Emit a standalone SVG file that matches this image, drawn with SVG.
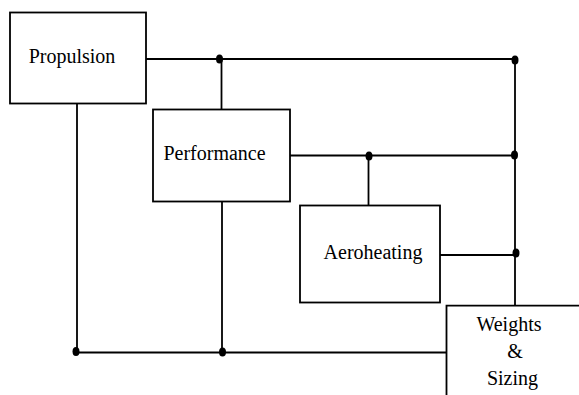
<svg xmlns="http://www.w3.org/2000/svg" width="579" height="395" viewBox="0 0 579 395">
<style>
.box{fill:#fff;stroke:#000;stroke-width:1.8}
.ln{fill:none;stroke:#000;stroke-width:1.8}
.dot{fill:#000}
text{font-family:"Liberation Serif","Times New Roman",serif;font-size:20px;fill:#000}
</style>
<rect width="579" height="395" fill="#fff"/>
<g id="connectors">
<path class="ln" d="M146 59 H515 V306"/>
<path class="ln" d="M221.5 59 V109.5"/>
<path class="ln" d="M290 155.5 H515"/>
<path class="ln" d="M368.5 155.5 V205.5"/>
<path class="ln" d="M440 255 H515"/>
<path class="ln" d="M77 103.5 V352.5 H446.5"/>
<path class="ln" d="M222 201.5 V352.5"/>
<ellipse class="dot" cx="219.5" cy="59" rx="3.5" ry="4.5"/>
<ellipse class="dot" cx="515" cy="60" rx="3.5" ry="4.5"/>
<ellipse class="dot" cx="369" cy="156" rx="3.5" ry="4.5"/>
<ellipse class="dot" cx="514.5" cy="155" rx="3.5" ry="4.5"/>
<ellipse class="dot" cx="516" cy="253" rx="3.5" ry="4.5"/>
<ellipse class="dot" cx="76" cy="351.5" rx="3.5" ry="4.5"/>
<ellipse class="dot" cx="222.5" cy="352" rx="3.5" ry="4.5"/>
</g>
<g id="propulsion">
<rect class="box" x="10" y="12.5" width="136" height="91"/>
<text x="72" y="63" text-anchor="middle">Propulsion</text>
</g>
<g id="performance">
<rect class="box" x="153" y="109.5" width="137" height="92"/>
<text x="214.5" y="160" text-anchor="middle">Performance</text>
</g>
<g id="aeroheating">
<rect class="box" x="300" y="205.5" width="140" height="97"/>
<text x="373" y="259" text-anchor="middle">Aeroheating</text>
</g>
<g id="weights">
<path class="box" d="M446.5 396 V305.7 H580"/>
<text x="509" y="330.5" text-anchor="middle">Weights</text>
<text x="515" y="358" text-anchor="middle">&amp;</text>
<text x="512.5" y="385" text-anchor="middle">Sizing</text>
</g>
</svg>
